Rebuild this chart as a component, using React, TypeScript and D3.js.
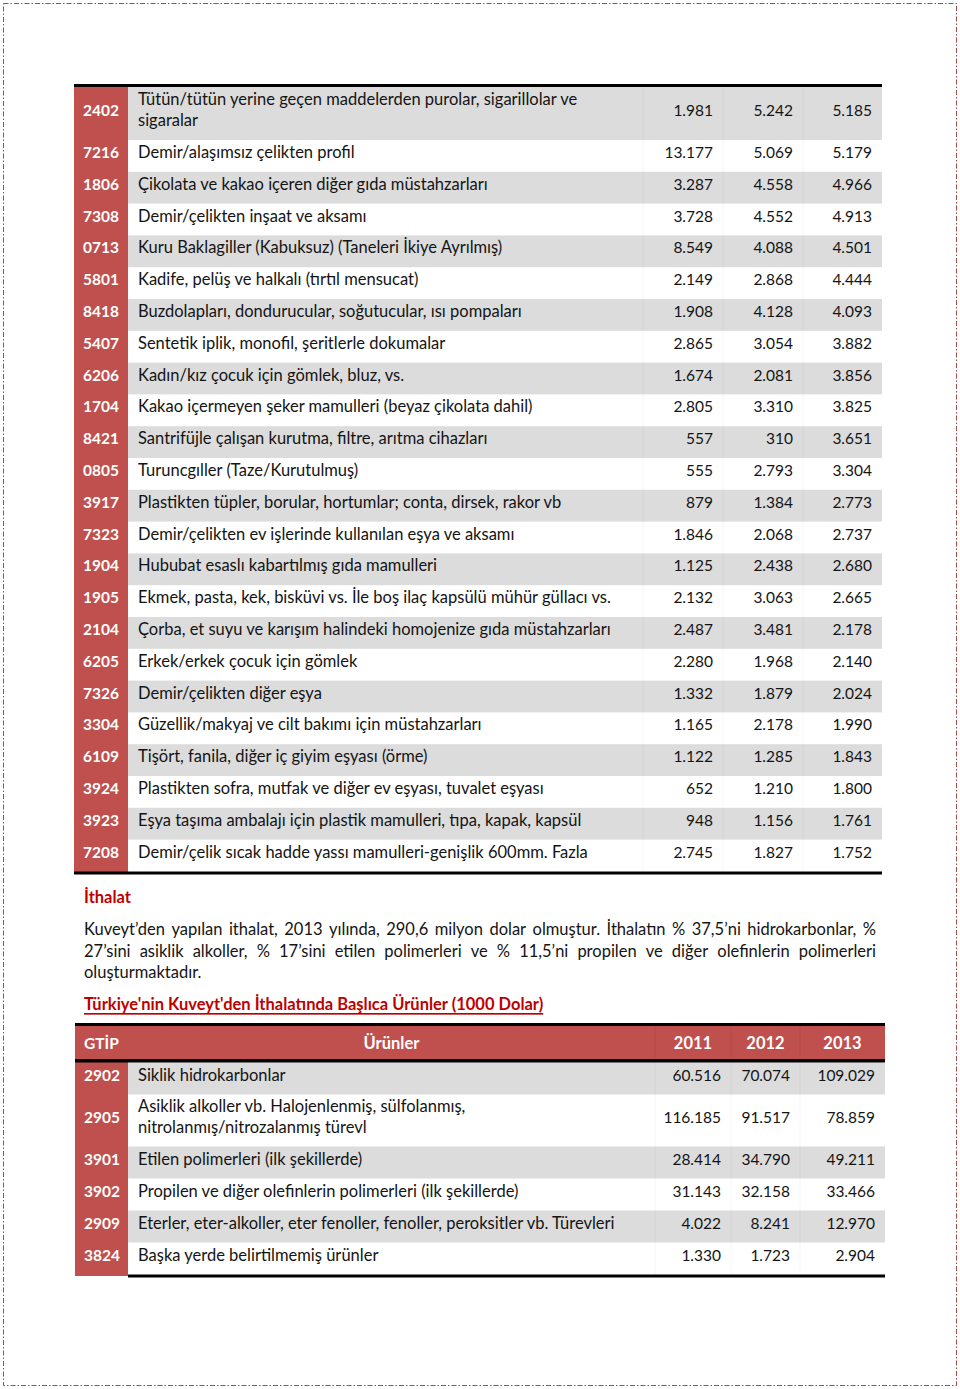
import React, { useEffect, useRef } from "react";
import * as d3 from "d3";

// --- ihracat tablosu (1000 $)
const exportCodes = ["2402", "7216", "1806", "7308", "0713", "5801", "8418", "5407", "6206", "1704", "8421", "0805", "3917", "7323", "1904", "1905", "2104", "6205", "7326", "3304", "6109", "3924", "3923", "7208"];
const exportNames = [
  "Tütün/tütün yerine geçen maddelerden purolar, sigarillolar ve\nsigaralar",
  "Demir/alaşımsız çelikten profil",
  "Çikolata ve kakao içeren diğer gıda müstahzarları",
  "Demir/çelikten inşaat ve aksamı",
  "Kuru Baklagiller (Kabuksuz) (Taneleri İkiye Ayrılmış)",
  "Kadife, pelüş ve halkalı (tırtıl mensucat)",
  "Buzdolapları, dondurucular, soğutucular, ısı pompaları",
  "Sentetik iplik, monofil, şeritlerle dokumalar",
  "Kadın/kız çocuk için gömlek, bluz, vs.",
  "Kakao içermeyen şeker mamulleri (beyaz çikolata dahil)",
  "Santrifüjle çalışan kurutma, filtre, arıtma cihazları",
  "Turuncgıller (Taze/Kurutulmuş)",
  "Plastikten tüpler, borular, hortumlar; conta, dirsek, rakor vb",
  "Demir/çelikten ev işlerinde kullanılan eşya ve aksamı",
  "Hububat esaslı kabartılmış gıda mamulleri",
  "Ekmek, pasta, kek, bisküvi vs. İle boş ilaç kapsülü mühür güllacı vs.",
  "Çorba, et suyu ve karışım halindeki homojenize gıda müstahzarları",
  "Erkek/erkek çocuk için gömlek",
  "Demir/çelikten diğer eşya",
  "Güzellik/makyaj ve cilt bakımı için müstahzarları",
  "Tişört, fanila, diğer iç giyim eşyası (örme)",
  "Plastikten sofra, mutfak ve diğer ev eşyası, tuvalet eşyası",
  "Eşya taşıma ambalajı için plastik mamulleri, tıpa, kapak, kapsül",
  "Demir/çelik sıcak hadde yassı mamulleri-genişlik 600mm. Fazla",
];
const export2011 = [1981, 13177, 3287, 3728, 8549, 2149, 1908, 2865, 1674, 2805, 557, 555, 879, 1846, 1125, 2132, 2487, 2280, 1332, 1165, 1122, 652, 948, 2745];
const export2012 = [5242, 5069, 4558, 4552, 4088, 2868, 4128, 3054, 2081, 3310, 310, 2793, 1384, 2068, 2438, 3063, 3481, 1968, 1879, 2178, 1285, 1210, 1156, 1827];
const export2013 = [5185, 5179, 4966, 4913, 4501, 4444, 4093, 3882, 3856, 3825, 3651, 3304, 2773, 2737, 2680, 2665, 2178, 2140, 2024, 1990, 1843, 1800, 1761, 1752];

// --- ithalat tablosu (1000 $)
const importYears = ["2011", "2012", "2013"];
const importCodes = ["2902", "2905", "3901", "3902", "2909", "3824"];
const importNames = [
  "Siklik hidrokarbonlar",
  "Asiklik alkoller vb. Halojenlenmiş, sülfolanmış,\nnitrolanmış/nitrozalanmış türevl",
  "Etilen polimerleri (ilk şekillerde)",
  "Propilen ve diğer olefinlerin polimerleri (ilk şekillerde)",
  "Eterler, eter-alkoller, eter fenoller, fenoller, peroksitler vb. Türevleri",
  "Başka yerde belirtilmemiş ürünler",
];
const import2011 = [60516, 116185, 28414, 31143, 4022, 1330];
const import2012 = [70074, 91517, 34790, 32158, 8241, 1723];
const import2013 = [109029, 78859, 49211, 33466, 12970, 2904];

const sectionTitle = "İthalat";
const paragraphLines = [
  "Kuveyt’den yapılan ithalat, 2013 yılında, 290,6 milyon dolar olmuştur. İthalatın % 37,5’ni hidrokarbonlar, %",
  "27’sini asiklik alkoller, % 17’sini etilen polimerleri ve % 11,5’ni propilen ve diğer olefinlerin polimerleri",
  "oluşturmaktadır.",
];
const tableTitle = "Türkiye'nin Kuveyt'den İthalatında Başlıca Ürünler (1000 Dolar)";

const W = 960;
const H = 1389;
const FONT = "Lato, 'Open Sans', sans-serif";
const RED = "#c0504d";
const GREY = "#dcdcdc";
const DARKRED = "#c00000";
const INK = "#141414";
const TXT = 16.5; // body text size
const NUM = 15.5; // codes & numbers

const fmt = d3.formatLocale({ decimal: ",", thousands: ".", grouping: [3], currency: ["", ""] }).format(",d");

type TableProps = {
  codes: string[];
  names: string[];
  values: number[][];
  top: number;
  rowH: number;
  doubleH: number;
  colEdges: number[]; // left, code right, desc right, year col rights...
  header?: { h: number; labels: string[] };
  bottomFromCode?: boolean;
};

const DataTable = ({ codes, names, values, top, rowH, doubleH, colEdges, header, bottomFromCode }: TableProps) => {
  const left = colEdges[0];
  const codeRight = colEdges[1];
  const right = colEdges[colEdges.length - 1];
  const heights = names.map((n) => (n.includes("\n") ? doubleH : rowH));
  const bodyTop = top + 1.5 + (header ? header.h + 3.5 : 0);
  const starts = [bodyTop, ...Array.from(d3.cumsum(heights)).map((c) => bodyTop + c)];
  const bodyBottom = starts[starts.length - 1];

  return (
    <g fontFamily={FONT} fontSize={NUM}>
      {/* code column */}
      <rect x={left} y={top} width={codeRight - left} height={bodyBottom - top + 1.5} fill={RED} />
      {names.map((n, i) =>
        i % 2 === 0 ? (
          <rect key={`bg${i}`} x={codeRight} y={starts[i]} width={right - codeRight} height={heights[i]} fill={GREY} />
        ) : null
      )}
      {/* faint column rules */}
      {colEdges.slice(2, -1).map((x, i) => (
        <line key={`vr${i}`} x1={x} x2={x} y1={bodyTop} y2={bodyBottom} stroke="#000" strokeOpacity={0.035} />
      ))}
      {header && (
        <g>
          <rect x={left} y={top} width={right - left} height={header.h + 1.5} fill={RED} />
          {colEdges.slice(2, -1).map((x, i) => (
            <line key={`hr${i}`} x1={x} x2={x} y1={top} y2={top + header.h} stroke="#000" strokeOpacity={0.06} />
          ))}
          <text x={left + 9} y={top + 1.5 + header.h / 2} dominantBaseline="central" fill="#fff" fontWeight={700}>
            {header.labels[0]}
          </text>
          {header.labels.slice(1).map((lab, i) => (
            <text
              key={lab}
              x={(colEdges[i + 1] + colEdges[i + 2]) / 2}
              y={top + 1.5 + header.h / 2}
              dominantBaseline="central"
              textAnchor="middle"
              fill="#fff"
              fontWeight={700}
              fontSize={16.5}
            >
              {lab}
            </text>
          ))}
          <line x1={left} x2={right} y1={top + 1.5 + header.h + 1.75} y2={top + 1.5 + header.h + 1.75} stroke="#000" strokeWidth={3.5} />
        </g>
      )}
      {names.map((n, i) => {
        const cy = starts[i] + heights[i] / 2 - 4;
        const lines = n.split("\n");
        return (
          <g key={`r${i}`}>
            <text x={left + 9} y={cy} dominantBaseline="central" fill="#fff" fontWeight={700}>
              {codes[i]}
            </text>
            {lines.map((ln, j) => (
              <text
                key={j}
                x={codeRight + 10}
                y={cy + (j - (lines.length - 1) / 2) * 21}
                dominantBaseline="central"
                fill={INK}
                fontSize={TXT}
              >
                {ln}
              </text>
            ))}
            {values.map((col, k) => (
              <text
                key={`v${k}`}
                x={colEdges[k + 3] - 10}
                y={cy}
                dominantBaseline="central"
                textAnchor="end"
                fill={INK}
              >
                {fmt(col[i])}
              </text>
            ))}
          </g>
        );
      })}
      <line x1={left} x2={right} y1={top} y2={top} stroke="#000" strokeWidth={3} />
      <line
        x1={bottomFromCode ? codeRight : left}
        x2={right}
        y1={bodyBottom + 1.5}
        y2={bodyBottom + 1.5}
        stroke="#000"
        strokeWidth={3}
      />
    </g>
  );
};

const Paragraph = ({ x0, x1, y0, lh }: { x0: number; x1: number; y0: number; lh: number }) => {
  const ref = useRef<SVGGElement>(null);
  useEffect(() => {
    const g = d3.select(ref.current);
    g.selectAll("*").remove();
    paragraphLines.forEach((line, li) => {
      const words = line.split(" ");
      const y = y0 + li * lh;
      const nodes = words.map((w) =>
        g.append("text").attr("y", y).attr("dominant-baseline", "central").attr("fill", INK).text(w)
      );
      const widths = nodes.map((n) => (n.node() as SVGTextElement).getComputedTextLength());
      const total = d3.sum(widths);
      const last = li === paragraphLines.length - 1;
      const gap = last ? 4.5 : (x1 - x0 - total) / (words.length - 1);
      let x = x0;
      nodes.forEach((n, i) => {
        n.attr("x", x);
        x += widths[i] + gap;
      });
    });
  }, [x0, x1, y0, lh]);
  return <g ref={ref} fontFamily={FONT} fontSize={TXT} />;
};

export default function App() {
  return (
    <div style={{ position: "absolute", left: 0, top: 0, width: W, height: H, background: "#fff" }}>
      <svg width={W} height={H} style={{ display: "block" }}>
        <rect
          x={3.5}
          y={3.5}
          width={W - 7}
          height={H - 7}
          fill="none"
          stroke="#a34b4b"
          strokeWidth={1}
          strokeDasharray="5,2,1.5,2"
        />
        <DataTable
          codes={exportCodes}
          names={exportNames}
          values={[export2011, export2012, export2013]}
          top={85.5}
          rowH={31.8}
          doubleH={53}
          colEdges={[74, 128, 643, 723, 803, 882]}
        />
        <text x={84} y={897} dominantBaseline="central" fontFamily={FONT} fontSize={16.5} fontWeight={700} fill={DARKRED}>
          {sectionTitle}
        </text>
        <Paragraph x0={84} x1={876} y0={929} lh={21.5} />
        <text
          x={84}
          y={1004}
          dominantBaseline="central"
          fontFamily={FONT}
          fontSize={16.5}
          fontWeight={700}
          fill={DARKRED}
          textDecoration="underline"
        >
          {tableTitle}
        </text>
        <DataTable
          codes={importCodes}
          names={importNames}
          values={[import2011, import2012, import2013]}
          top={1024.5}
          rowH={32}
          doubleH={52}
          colEdges={[75, 128, 655, 731, 800, 885]}
          header={{ h: 33, labels: ["GTİP", "Ürünler", ...importYears] }}
          bottomFromCode
        />
      </svg>
    </div>
  );
}
